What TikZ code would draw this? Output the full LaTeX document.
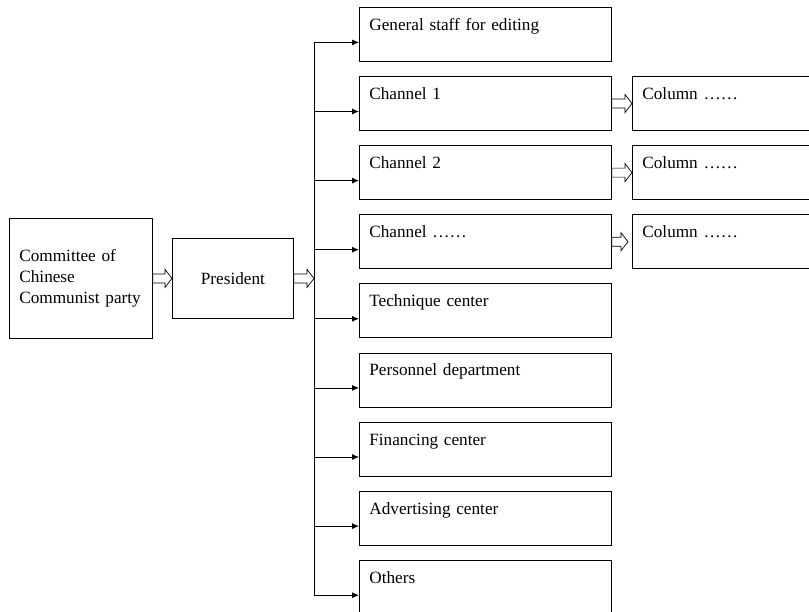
\documentclass[tikz,border=0pt]{standalone}
\usepackage{fontspec}
\setmainfont{Liberation Serif}
\usetikzlibrary{calc,arrows.meta}
\newcommand\boxfont{\fontsize{17.2}{21}\selectfont}
% hollow block arrow between two points at the same height
\newcommand\blockarrow[2]{%
  \draw[hollowarr] ($(#1)+(0,-4.5)$) -- ($(#2)+(-7,-4.5)$) -- ($(#2)+(-7,-9)$)
    -- (#2) -- ($(#2)+(-7,9)$) -- ($(#2)+(-7,4.5)$) -- ($(#1)+(0,4.5)$) -- cycle;}
\begin{document}
\begin{tikzpicture}[x=1pt,y=-1pt,
  unitbox/.style={draw, line width=0.8pt, anchor=north west, font=\boxfont,
    minimum width=252pt, text width=232pt, inner xsep=10pt, inner ysep=0pt,
    text height=23pt, text depth=31pt, align=left},
  colbox/.style={unitbox, minimum width=185pt, text width=165pt},
  hollowarr/.style={draw, line width=0.7pt, fill=white, line join=miter},
  branch/.style={line width=0.8pt, -{Latex[length=7pt,width=6pt]}}]
\useasboundingbox (0,0) rectangle (809,611);

% leadership
\node[draw, line width=0.8pt, anchor=north west, font=\boxfont, minimum width=143pt,
  minimum height=120pt, text width=123pt, inner xsep=10pt, align=left]
  (party) at (9,218) {Committee of\\Chinese\\Communist party};
\node[draw, line width=0.8pt, anchor=north west, font=\boxfont, minimum width=121pt,
  minimum height=80pt] (pres) at (172,238) {President};

% departments under the president
\node[unitbox] (u1) at (359,7)     {General staff for editing};
\node[unitbox] (u2) at (359,76.1)  {Channel 1};
\node[unitbox] (u3) at (359,145.2) {Channel 2};
\node[unitbox] (u4) at (359,214.3) {Channel \ldots\ldots};
\node[unitbox] (u5) at (359,283.4) {Technique center};
\node[unitbox] (u6) at (359,352.5) {Personnel department};
\node[unitbox] (u7) at (359,421.6) {Financing center};
\node[unitbox] (u8) at (359,490.7) {Advertising center};
\node[unitbox] (u9) at (359,559.8) {Others};

% columns of the channels
\node[colbox] (c2) at (632,76.1)  {Column \ldots\ldots};
\node[colbox] (c3) at (632,145.2) {Column \ldots\ldots};
\node[colbox] (c4) at (632,214.3) {Column \ldots\ldots};

% distribution trunk
\coordinate (ttop) at (314,42);
\coordinate (tbot) at (314,595);
\coordinate (tin) at (pres.east -| ttop);
\draw[line width=0.8pt] (ttop) -- (tbot);
\foreach \u in {u1,u2,u3,u4,u5,u6,u7,u8,u9}{
  \coordinate (\u in) at ([yshift=-8pt]\u.west);
  \draw[branch] (\u in -| ttop) -- (\u in);
}

% hollow arrows
\blockarrow{party.east |- pres.west}{pres.west}
\blockarrow{pres.east}{tin}
\blockarrow{u2.east}{c2.west}
\blockarrow{u3.east}{c3.west}
\coordinate (c4tip) at ([xshift=-4pt]c4.west);
\blockarrow{u4.east}{c4tip}
\end{tikzpicture}
\end{document}
